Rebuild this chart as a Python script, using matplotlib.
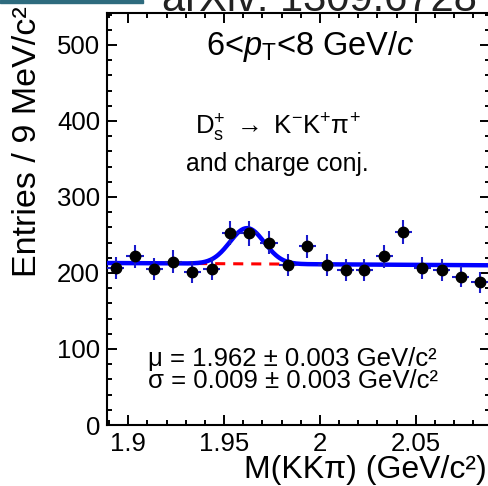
import numpy as np
import matplotlib
matplotlib.use('Agg')
import matplotlib.pyplot as plt
from matplotlib.patches import Rectangle
from matplotlib.ticker import MultipleLocator

plt.rcParams['font.family'] = ['Liberation Sans', 'DejaVu Sans']
plt.rcParams['mathtext.fontset'] = 'custom'
plt.rcParams['mathtext.rm'] = 'Liberation Sans'
plt.rcParams['mathtext.it'] = 'Liberation Sans:italic'

# data points (bin centres in GeV/c^2, entries per bin)
masse = [1.8935, 1.9035, 1.9135, 1.9235, 1.9335, 1.9435, 1.9532, 1.9630, 1.9735, 1.9832,
         1.9934, 2.0035, 2.0135, 2.0232, 2.0336, 2.0435, 2.0534, 2.0636, 2.0735, 2.0836]
entrees = [206, 222, 205, 215, 201, 205, 253, 252, 240, 211,
           235, 210, 204, 204, 222, 254, 207, 204, 195, 188]
erreurs = [14.4, 14.9, 14.3, 14.7, 14.2, 14.3, 15.9, 15.9, 15.5, 14.5,
           15.3, 14.5, 14.3, 14.3, 14.9, 15.9, 14.4, 14.3, 14.0, 13.7]
demi_bin = 0.0045

# fit result: gaussian on a linear background
mu = 1.962
sigma = 0.009
amplitude = 47.0
fond_mu = 212.0      # background at mu
fond_pente = -15.0   # background slope per GeV/c^2

x_min, x_max = 1.8889, 2.0888
y_min, y_max = 0, 542

fig = plt.figure(figsize=(4.88, 4.86), dpi=100)
W, H = 488.0, 486.0
ax = fig.add_axes([107 / W, (H - 425) / H, (490 - 107) / W, (425 - 13) / H])

# fit curves
x_fit = np.linspace(x_min, x_max, 400)
fond = fond_mu + fond_pente * (x_fit - mu)
signal = amplitude * np.exp(-0.5 * ((x_fit - mu) / sigma) ** 2)
ax.plot(x_fit, fond, color='#ff0000', lw=2.2, linestyle=(0, (3.3, 2.6)), zorder=2)
ax.plot(x_fit, fond + signal, color='#0000ff', lw=3.2, zorder=3)

# data with error bars
ax.errorbar(masse, entrees, yerr=erreurs, xerr=demi_bin, fmt='o', color='black',
            ecolor='#1a1acc', elinewidth=1.5, capsize=0, markersize=7.5, zorder=4)

ax.set_xlim(x_min, x_max)
ax.set_ylim(y_min, y_max)

ax.xaxis.set_major_locator(MultipleLocator(0.05))
ax.xaxis.set_minor_locator(MultipleLocator(0.01))
ax.yaxis.set_major_locator(MultipleLocator(100))
ax.yaxis.set_minor_locator(MultipleLocator(20))
ax.set_xticks([1.9, 1.95, 2.0, 2.05])
ax.set_xticklabels(['1.9', '1.95', '2', '2.05'])

ax.tick_params(which='both', direction='in', top=True, right=True, width=1.4,
               labelsize=18.5, colors='black')
ax.tick_params(which='major', length=7.2)
ax.tick_params(which='minor', length=3.6)
ax.tick_params(axis='y', pad=5)
ax.tick_params(axis='x', pad=5)
for s in ax.spines.values():
    s.set_linewidth(1.5)

# axis titles (ROOT style, aligned to the end of the axes)
fig.text(28 / W, 1 - 6 / H, 'Entries / 9 MeV/c²', rotation=90, ha='center', va='top',
         fontsize=24.5)
fig.text(487 / W, 1 - 470 / H, 'M(KKπ) (GeV/c²)', ha='right', va='center', fontsize=23)

# labels inside the frame
fig.text(310 / W, 1 - 55 / H, r'6<$p_{\rm T}$<8 GeV/$c$', ha='center', va='baseline',
         fontsize=23.5)
fig.text(278 / W, 1 - 128 / H, r'D$_{\rm s}^{+}$ $\rightarrow$ K$^{-}$K$^{+}$$\mathrm{\pi}^{+}$',
         ha='center', va='center', fontsize=18.5)
fig.text(277 / W, 1 - 164 / H, 'and charge conj.', ha='center', va='center', fontsize=17.8)
fig.text(148 / W, 1 - 366 / H, 'μ = 1.962 ± 0.003 GeV/c²', ha='left', va='baseline',
         fontsize=18.5)
fig.text(148 / W, 1 - 388 / H, 'σ = 0.009 ± 0.003 GeV/c²', ha='left', va='baseline',
         fontsize=18.5)

# bits of the page the chart was cut from
fig.patches.append(Rectangle((0, 1 - 3 / H), 143 / W, 3 / H, transform=fig.transFigure,
                             color='#2e6b7e', zorder=10))
fig.text(162 / W, 1 - 11 / H, 'arXiv: 1309.6728', ha='left', va='baseline',
         fontsize=30, color='#222222')

fig.savefig('out.png', dpi=100)
